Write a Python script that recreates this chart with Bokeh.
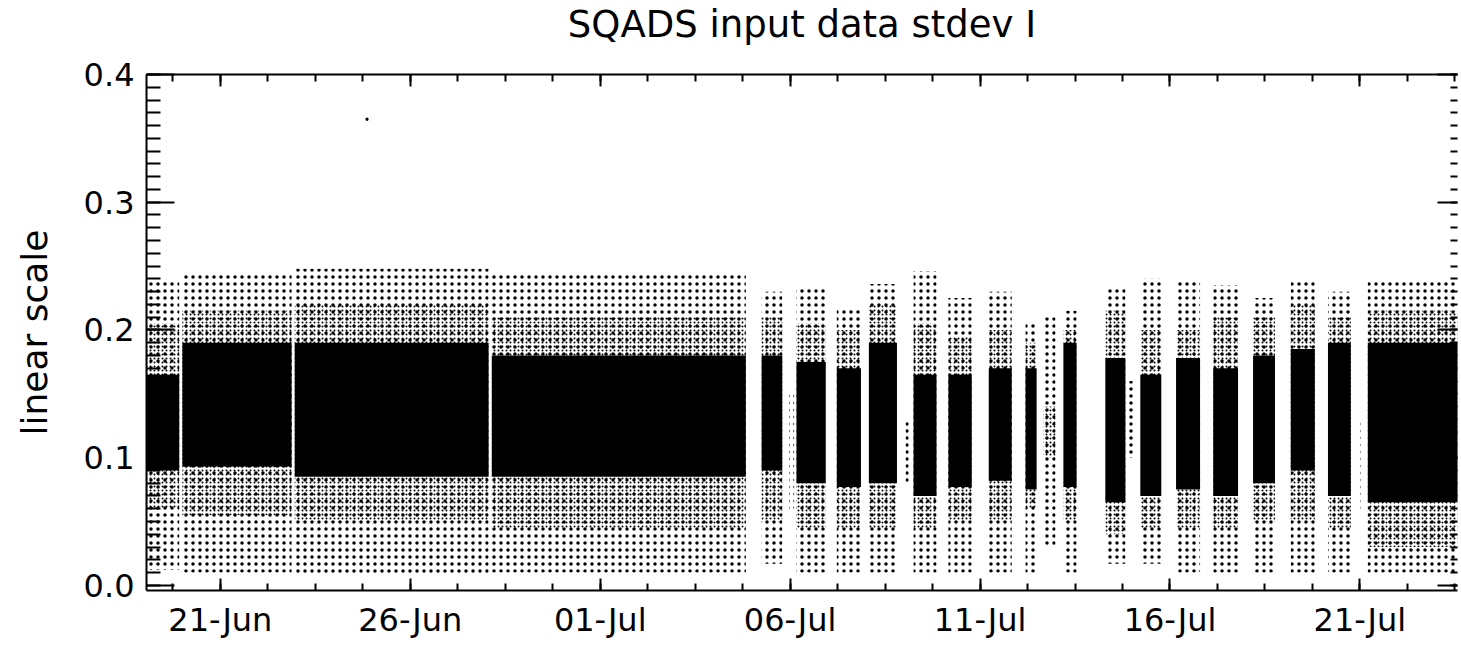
import pandas as pd
from bokeh.plotting import figure
from bokeh.models import (Range1d, ColumnDataSource, FixedTicker, LinearAxis,
                          DatetimeAxis, CustomLabelingPolicy)
from bokeh.embed import file_html
from bokeh.resources import INLINE

block_start = ["2011-06-19 01:30", "2011-06-20 00:00", "2011-06-22 23:00", "2011-06-28 03:30",
               "2011-07-05 06:00", "2011-07-05 23:20", "2011-07-06 04:00", "2011-07-07 05:30",
               "2011-07-08 01:45", "2011-07-09 01:00", "2011-07-09 06:00", "2011-07-10 04:00",
               "2011-07-11 05:30", "2011-07-12 04:45", "2011-07-12 16:00", "2011-07-13 04:40",
               "2011-07-14 07:10", "2011-07-14 21:40", "2011-07-15 05:15", "2011-07-16 03:50",
               "2011-07-17 03:20", "2011-07-18 04:30", "2011-07-19 04:20", "2011-07-20 03:50",
               "2011-07-20 22:40", "2011-07-21 05:00"]
block_end = ["2011-06-19 22:00", "2011-06-22 21:00", "2011-06-28 01:30", "2011-07-04 20:00",
             "2011-07-05 19:00", "2011-07-06 02:30", "2011-07-06 22:30", "2011-07-07 20:45",
             "2011-07-08 19:30", "2011-07-09 03:00", "2011-07-09 20:30", "2011-07-10 18:45",
             "2011-07-11 20:00", "2011-07-12 11:45", "2011-07-12 23:40", "2011-07-13 13:00",
             "2011-07-14 19:50", "2011-07-15 01:00", "2011-07-15 18:30", "2011-07-16 19:00",
             "2011-07-17 19:00", "2011-07-18 18:20", "2011-07-19 19:30", "2011-07-20 18:15",
             "2011-07-21 00:30", "2011-07-23 18:00"]
sparse_low = [0.012, 0.010, 0.008, 0.010, 0.017, 0.060, 0.010, 0.010, 0.010, 0.080, 0.010, 0.010,
              0.010, 0.010, 0.030, 0.010, 0.017, 0.100, 0.017, 0.010, 0.010, 0.010, 0.010, 0.010,
              0.060, 0.010]
dense_low = [0.060, 0.055, 0.050, 0.045, 0.050, 0.100, 0.045, 0.045, 0.045, 0.100, 0.045, 0.050,
             0.050, 0.060, 0.100, 0.050, 0.040, 0.120, 0.045, 0.045, 0.045, 0.050, 0.050, 0.045,
             0.100, 0.030]
core_low = [0.090, 0.093, 0.085, 0.085, 0.090, 0.100, 0.080, 0.077, 0.080, 0.100, 0.070, 0.077,
            0.082, 0.075, 0.120, 0.077, 0.065, 0.120, 0.070, 0.075, 0.070, 0.080, 0.090, 0.070,
            0.100, 0.065]
core_high = [0.165, 0.190, 0.190, 0.180, 0.180, 0.100, 0.175, 0.170, 0.190, 0.100, 0.165, 0.165,
             0.170, 0.170, 0.120, 0.190, 0.178, 0.120, 0.165, 0.178, 0.170, 0.180, 0.185, 0.190,
             0.100, 0.190]
dense_high = [0.205, 0.215, 0.220, 0.210, 0.210, 0.100, 0.205, 0.200, 0.220, 0.100, 0.205, 0.195,
              0.200, 0.190, 0.140, 0.200, 0.215, 0.120, 0.200, 0.200, 0.210, 0.210, 0.220, 0.210,
              0.100, 0.215]
sparse_high = [0.238, 0.245, 0.248, 0.245, 0.230, 0.150, 0.233, 0.218, 0.236, 0.130, 0.246, 0.225,
               0.230, 0.207, 0.210, 0.215, 0.233, 0.160, 0.240, 0.238, 0.235, 0.225, 0.238, 0.230,
               0.130, 0.238]
outlier_time = ["2011-06-24 20:40"]
outlier_value = [0.365]

title_text = "SQADS input data stdev I"
y_label = "linear scale"
x_tick_dates = ["2011-06-21", "2011-06-26", "2011-07-01", "2011-07-06", "2011-07-11",
                "2011-07-16", "2011-07-21"]
x_tick_labels = ["21-Jun", "26-Jun", "01-Jul", "06-Jul", "11-Jul", "16-Jul", "21-Jul"]
y_ticks = [0.0, 0.1, 0.2, 0.3, 0.4]
y_tick_labels = ["0.0", "0.1", "0.2", "0.3", "0.4"]


def ms(s):
    return pd.Timestamp(s).value / 1e6


src = ColumnDataSource(dict(
    left=[ms(s) for s in block_start], right=[ms(s) for s in block_end],
    slo=sparse_low, dlo=dense_low, clo=core_low, chi=core_high, dhi=dense_high, shi=sparse_high))

x_start = ms("2011-06-19 01:20")
x_end = ms("2011-07-23 13:40")

p = figure(width=1461, height=648, x_axis_type="datetime", output_backend="svg",
           toolbar_location=None, x_range=Range1d(x_start, x_end), y_range=Range1d(-0.004, 0.4),
           min_border_left=146, min_border_right=0, min_border_top=73, min_border_bottom=58)
p.grid.visible = False
p.outline_line_color = None
p.background_fill_color = "white"
p.border_fill_color = "white"

FONT = "DejaVu Sans"

# sparse scatter envelope
p.quad(left="left", right="right", bottom="slo", top="shi", source=src,
       fill_color=None, line_color=None, hatch_pattern="dot", hatch_color="black",
       hatch_scale=7, hatch_weight=1)
# denser envelope
p.quad(left="left", right="right", bottom="dlo", top="dhi", source=src,
       fill_color=None, line_color=None, hatch_pattern="dot", hatch_color="black",
       hatch_scale=4, hatch_weight=1)
# saturated core
p.quad(left="left", right="right", bottom="clo", top="chi", source=src,
       fill_color="black", line_color=None)

p.scatter([ms(t) for t in outlier_time], outlier_value, marker="square", size=2,
          color="black")

day = 86400000.0
major_x = [ms(d) for d in x_tick_dates]
minor_x = []
t = major_x[0] - 2 * 1.25 * day
while t < x_end:
    minor_x.append(t)
    t += 1.25 * day
xticker = FixedTicker(ticks=major_x, minor_ticks=minor_x)
minor_y = [i / 100 for i in range(0, 41)]
yticker = FixedTicker(ticks=y_ticks, minor_ticks=minor_y)

xa = p.xaxis[0]
xa.ticker = xticker
xa.major_label_overrides = {m: l for m, l in zip(major_x, x_tick_labels)}
xa.major_label_text_font = FONT
xa.major_label_text_font_size = "32px"
xa.major_label_text_color = "black"
xa.major_label_standoff = 10
xa.major_tick_in = 12
xa.major_tick_out = 0
xa.minor_tick_in = 7
xa.minor_tick_out = 0
xa.axis_line_width = 2
xa.major_tick_line_width = 2
xa.minor_tick_line_width = 2

ya = p.yaxis[0]
ya.ticker = yticker
ya.major_label_overrides = {v: l for v, l in zip(y_ticks, y_tick_labels)}
ya.major_label_text_font = FONT
ya.major_label_text_font_size = "32px"
ya.major_label_text_color = "black"
ya.major_label_standoff = 12
ya.major_tick_in = 28
ya.major_tick_out = 0
ya.minor_tick_in = 14
ya.minor_tick_out = 0
ya.axis_line_width = 2
ya.major_tick_line_width = 2
ya.minor_tick_line_width = 2
ya.axis_label = y_label
ya.axis_label_text_font = FONT
ya.axis_label_text_font_size = "36px"
ya.axis_label_text_font_style = "normal"
ya.axis_label_text_color = "black"
ya.axis_label_standoff = 26

no_labels = CustomLabelingPolicy(code="""
const all = [...indices];
for (const i of all) indices.unset(i);
return indices;
""")

# top frame edge; it also carries the chart title as its label
top = DatetimeAxis(ticker=xticker, major_label_policy=no_labels, major_label_standoff=0,
                   major_label_text_font_size="1px",
                   major_tick_in=12, major_tick_out=0, minor_tick_in=7, minor_tick_out=0,
                   axis_line_width=2, major_tick_line_width=2, minor_tick_line_width=2,
                   axis_label=title_text, axis_label_text_font=FONT,
                   axis_label_text_font_size="37px", axis_label_text_font_style="normal",
                   axis_label_text_line_height=0.8,
                   axis_label_text_color="black", axis_label_standoff=23)
p.add_layout(top, "above")
right = LinearAxis(ticker=yticker, major_label_policy=no_labels, major_label_standoff=0,
                   major_label_text_font_size="1px",
                   major_tick_in=20, major_tick_out=0, minor_tick_in=7, minor_tick_out=0,
                   axis_line_color=None, major_tick_line_width=2, minor_tick_line_width=2)
p.add_layout(right, "right")

open("out.html", "w").write(file_html(p, INLINE))
